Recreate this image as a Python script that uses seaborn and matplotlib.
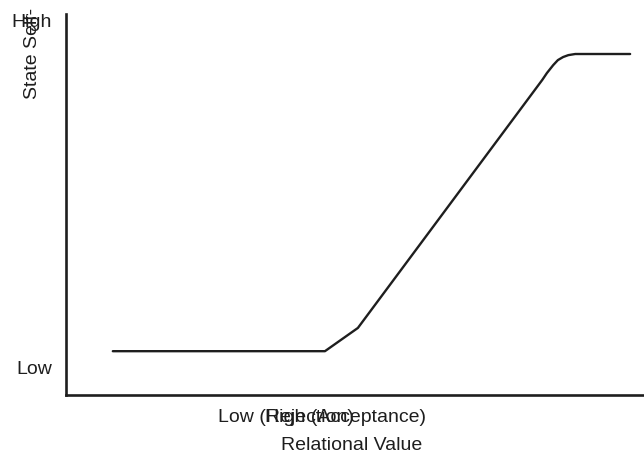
import pandas as pd
import numpy as np
import matplotlib.pyplot as plt
import seaborn as sns
from matplotlib.transforms import Bbox

# ==================== data ====================
relational_value = [0.81, 4.48, 5.05, 8.24, 8.32, 8.43, 8.51, 8.60, 8.69, 8.81, 9.76]
state_self_esteem = [1.15, 1.15, 1.76, 8.27, 8.45, 8.66, 8.79, 8.87, 8.92, 8.95, 8.95]

x_tick_pos = [3.81, 4.83]
x_tick_labels = ["Low (Rejection)", "High (Acceptance)"]
y_tick_pos = [0.71, 9.84]
y_tick_labels = ["Low", "High"]

# ==================== plot ====================
sns.set_style("ticks")
plt.rcParams['font.family'] = ['Liberation Sans', 'DejaVu Sans']

df = pd.DataFrame({"x": relational_value, "y": state_self_esteem})

fig = plt.figure(figsize=(6.44, 4.53), dpi=100)
ax = fig.add_axes([66 / 644, 58 / 453, 578 / 644, 381 / 453])

sns.lineplot(data=df, x="x", y="y", ax=ax, color="#1e1e1e", linewidth=1.7,
             sort=False, estimator=None)
ax.lines[0].set_solid_joinstyle("round")

ax.set_xlim(0, 10)
ax.set_ylim(0, 10)
sns.despine(ax=ax)
for s in ["left", "bottom"]:
    ax.spines[s].set_linewidth(1.9)
    ax.spines[s].set_color("#1e1e1e")

ax.set_xticks(x_tick_pos)
ax.set_xticklabels(x_tick_labels, fontsize=14, color="#1e1e1e")
ax.set_yticks(y_tick_pos)
ax.set_yticklabels(y_tick_labels, fontsize=14, color="#1e1e1e")
ax.tick_params(axis="both", length=0)
ax.tick_params(axis="x", pad=10)
ax.tick_params(axis="y", pad=10)

ax.set_xlabel("")
ax.set_ylabel("")
fig.text(352 / 644, 1 - 445 / 453, "Relational Value", ha="center", va="center",
         fontsize=14, color="#1e1e1e")
ylab = fig.text(33 / 644, 1 - 20 / 453, "State Self-Esteem", ha="center", va="center",
                rotation=90, fontsize=14, color="#1e1e1e")
# label is cut off above the top of the axis, as in the original figure
ylab.set_clip_box(Bbox([[0, 0], [644, 453 - 9]]))
ylab.set_clip_on(True)

plt.savefig("out.png", dpi=100)
